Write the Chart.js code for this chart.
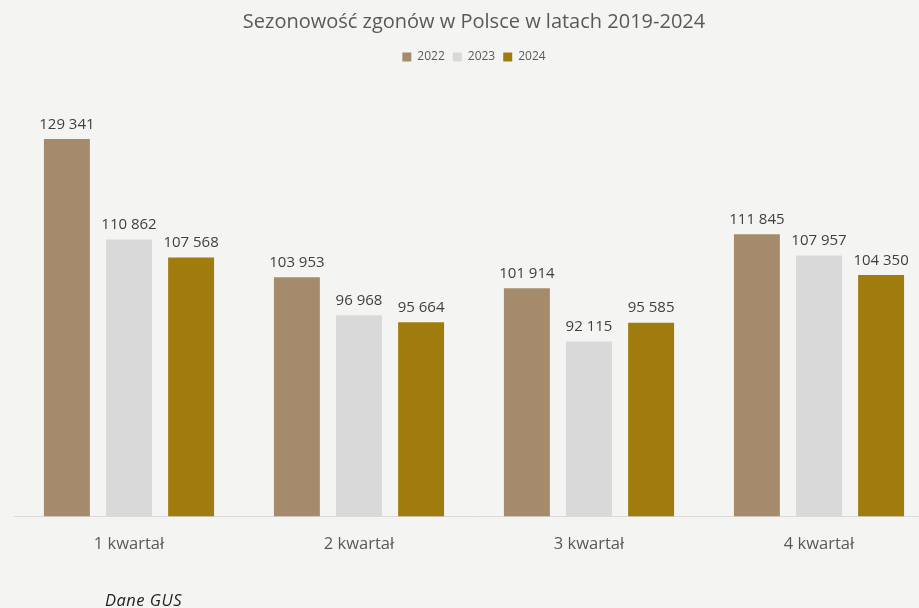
<!DOCTYPE html>
<html>
<head>
<meta charset="utf-8">
<script src="https://cdn.jsdelivr.net/npm/chart.js@4.4.1/dist/chart.umd.min.js"></script>
<style>
html,body{margin:0;padding:0;background:#f4f5f3;overflow:hidden;width:919px;height:608px;}
#wrap{position:absolute;left:0;top:0;width:947px;height:608px;}
#note{position:absolute;left:105px;top:588px;font-family:"Open Sans",sans-serif;font-style:italic;font-size:16.5px;letter-spacing:0.5px;color:#222;}
</style>
</head>
<body>
<div id="wrap"><canvas id="c" width="947" height="608"></canvas></div>
<div id="note">Dane GUS</div>
<script>
const categories = ["1 kwartał", "2 kwartał", "3 kwartał", "4 kwartał"];
const seriesNames = ["2022", "2023", "2024"];
const values2022 = [129341, 103953, 101914, 111845];
const values2023 = [110862, 96968, 92115, 107957];
const values2024 = [107568, 95664, 95585, 104350];
const colors = ["#a58b6b", "#d9d9d9", "#a07c0e"];

const fmt = v => String(v).replace(/\B(?=(\d{3})+(?!\d))/g, " ");
const FONT = "'Open Sans', sans-serif";

const labelPlugin = {
  id: "valueLabels",
  afterDatasetsDraw(chart) {
    const ctx = chart.ctx;
    ctx.save();
    ctx.font = "15px " + FONT;
    ctx.fillStyle = "#404040";
    ctx.textAlign = "center";
    ctx.textBaseline = "bottom";
    chart.data.datasets.forEach((ds, i) => {
      chart.getDatasetMeta(i).data.forEach((bar, j) => {
        ctx.fillText(fmt(ds.data[j]), bar.x, bar.y - 7);
      });
    });
    ctx.restore();
  }
};

const bg = {
  id: "bg",
  beforeDraw(chart) {
    const ctx = chart.ctx;
    ctx.save();
    ctx.fillStyle = "#f4f5f3";
    ctx.fillRect(0, 0, chart.width, chart.height);
    ctx.restore();
  }
};

new Chart(document.getElementById("c"), {
  type: "bar",
  data: {
    labels: categories,
    datasets: [
      { label: seriesNames[0], data: values2022, backgroundColor: colors[0] },
      { label: seriesNames[1], data: values2023, backgroundColor: colors[1] },
      { label: seriesNames[2], data: values2024, backgroundColor: colors[2] }
    ]
  },
  options: {
    responsive: false,
    animation: false,
    devicePixelRatio: 1,
    layout: { padding: { left: 14, right: 13, top: 10, bottom: 36 } },
    datasets: { bar: { categoryPercentage: 0.81, barPercentage: 0.74 } },
    plugins: {
      title: {
        display: true,
        text: "Sezonowość zgonów w Polsce w latach 2019-2024",
        color: "#595959",
        font: { family: FONT, size: 20, weight: "normal" },
        padding: { top: 0, bottom: 9 }
      },
      legend: {
        display: true,
        labels: {
          color: "#595959",
          font: { family: FONT, size: 12 },
          boxWidth: 9, boxHeight: 9, padding: 8
        }
      },
      tooltip: { enabled: false }
    },
    scales: {
      x: {
        grid: { display: false, drawTicks: false },
        border: { display: true, color: "#d9d9d9", width: 1 },
        ticks: { color: "#595959", font: { family: FONT, size: 16.5 }, padding: 18 }
      },
      y: {
        display: false,
        min: 60000,
        max: 141500
      }
    }
  },
  plugins: [bg, labelPlugin]
});
</script>
</body>
</html>
